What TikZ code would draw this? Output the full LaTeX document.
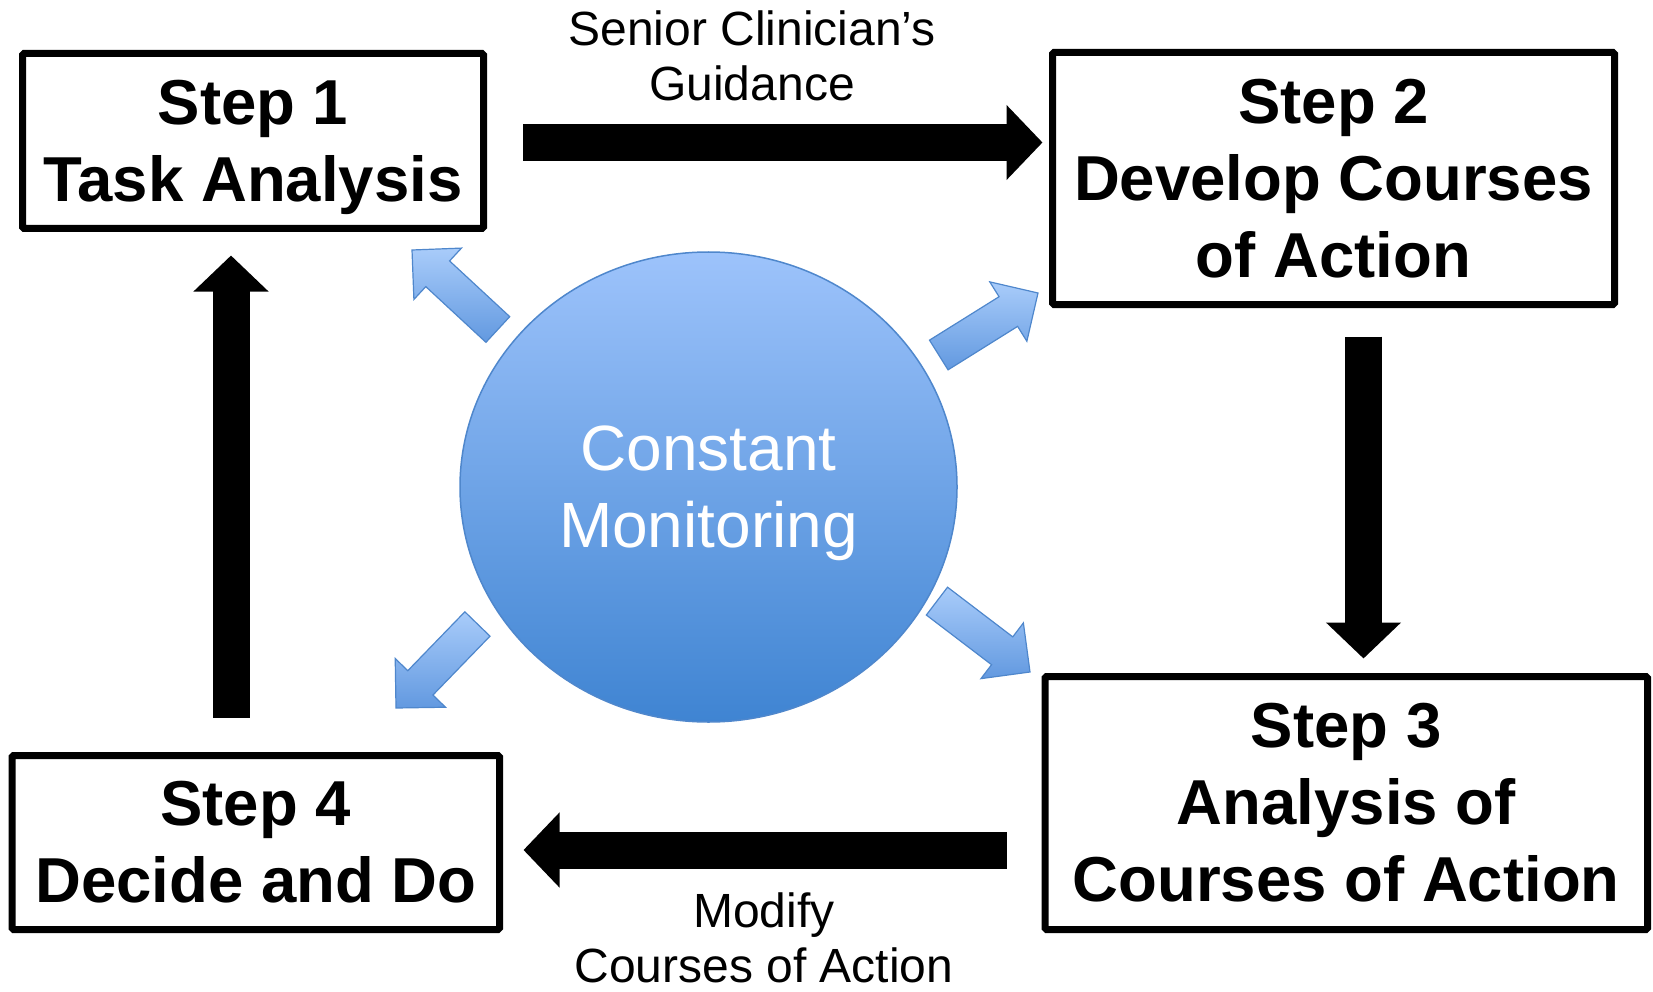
\documentclass[tikz,border=0pt]{standalone}
\usepackage{fontspec}
\setmainfont{Liberation Sans}
\usetikzlibrary{arrows.meta,shapes.geometric,calc}
\definecolor{circtop}{HTML}{9DC3FB}
\definecolor{circmid}{HTML}{80B0F0}
\definecolor{circbot}{HTML}{3F84D2}
\definecolor{circline}{HTML}{4F87CC}
\definecolor{arrlight}{HTML}{A9CCFA}
\definecolor{arrdark}{HTML}{6299E0}
\begin{document}
\begin{tikzpicture}[x=1pt,y=-1pt,
  stepbox/.style={draw=black, line width=7pt, rounded corners=1.5pt, inner sep=0pt,
    align=center, font=\fontsize{63.5}{77}\selectfont\bfseries},
  lbltext/.style={inner sep=0pt, align=center, font=\fontsize{48}{55}\selectfont},
  bigarrow/.style={line width=37pt, -{Triangle[width=73pt,length=36pt]}},
  pics/blockarrow/.style={code={
    \path[draw=circline, line width=1.2pt, top color=arrlight, bottom color=arrdark, line join=miter]
      (0,0) -- (-35,35) -- (-35,17.5) -- (-117,17.5) -- (-117,-17.5) -- (-35,-17.5) -- (-35,-35) -- cycle;
  }}]
\useasboundingbox (0,0) rectangle (1653,992);

% boxes
\node (s1) [stepbox, minimum width=461pt, minimum height=175pt] at (253,141)
  {Step 1\\Task Anal\smash{y}sis};
\node (s2) [stepbox, minimum width=562pt, minimum height=252pt] at (1333.5,178.5)
  {Step 2\\Develop Courses\\of Action};
\node (s3) [stepbox, minimum width=602.5pt, minimum height=253pt] at (1346.25,803)
  {Step 3\\Analysis of\\Courses of Action};
\node (s4) [stepbox, minimum width=487.5pt, minimum height=174pt] at (255.75,842.5)
  {Step 4\\Decide and Do};

% central circle
\node (cm) [ellipse, draw=circline, line width=1.5pt, top color=circtop, middle color=circmid,
  bottom color=circbot, minimum width=497pt, minimum height=470pt, inner sep=0pt,
  align=center, text=white, font=\fontsize{64}{77}\selectfont] at (708.5,487)
  {Constant\\Monitorin\smash{g}};

% labels
\node (g1) [lbltext] at (752,55.5) {Senior Clinician’s\\Guidance};
\node (g2) [lbltext] at (764,938) {Modify\\Courses of Action};

% black arrows
\coordinate (t1) at ($(s1.east)+(36,1.5)$);
\coordinate (t2) at ($(t1 -| s2.west)+(-6.5,0)$);
\draw[bigarrow] (t1) -- (t2);

\coordinate (d1) at ($(s2.south)+(30,28.5)$);
\coordinate (d2) at ($(d1 |- s3.north)+(0,-14.5)$);
\draw[bigarrow] (d1) -- (d2);

\coordinate (b1) at ($(s3.west)+(-35,47)$);
\coordinate (b2) at ($(b1 -| s4.east)+(20.5,0)$);
\draw[bigarrow] (b1) -- (b2);

\coordinate (u1) at ($(s4.north)+(-24.75,-34.5)$);
\coordinate (u2) at ($(u1 |- s1.south)+(0,23.5)$);
\draw[bigarrow] (u1) -- (u2);

% blue arrows
\pic[rotate=137.2] at (412,250) {blockarrow};
\pic[rotate=225.9] at (396,708) {blockarrow};
\pic[rotate=32] at (1038,293) {blockarrow};
\pic[rotate=-37.3] at (1030,672) {blockarrow};
\end{tikzpicture}
\end{document}
